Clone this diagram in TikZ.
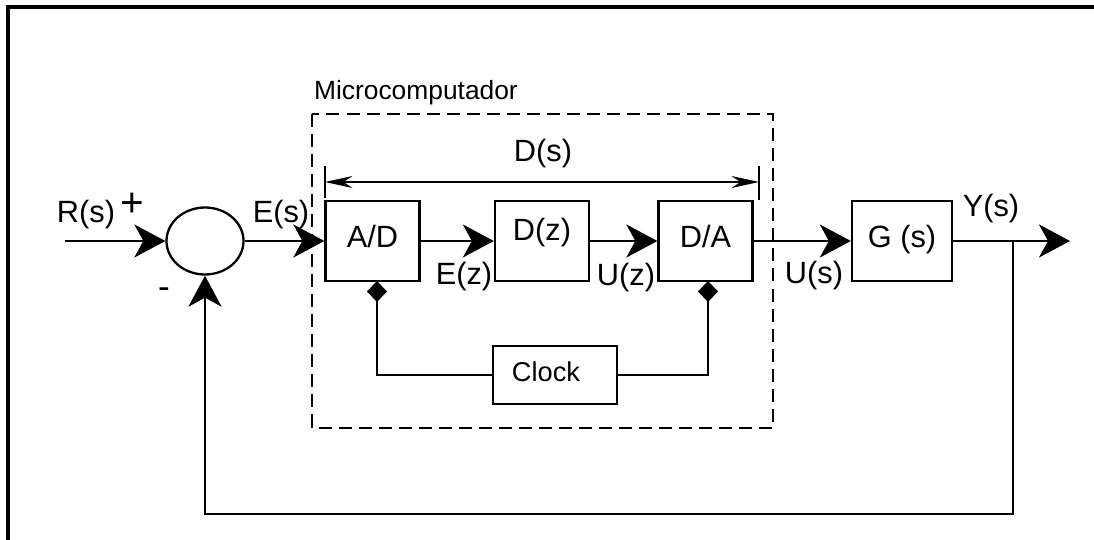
\documentclass[tikz,border=0pt]{standalone}
\usepackage{fontspec}
\setmainfont{Liberation Sans}
\usetikzlibrary{positioning,arrows.meta,shapes.geometric}

\begin{document}
\begin{tikzpicture}[line width=1.3pt,blk/.style={draw,minimum width=1.88cm,minimum height=1.6cm,text height=0.73em,text depth=0pt,font=\fontsize{17.5}{20}\selectfont},sumnode/.style={draw,ellipse,minimum width=1.54cm,minimum height=1.34cm,inner sep=0pt},sig/.style={-{Stealth[length=0.62cm,width=0.66cm,inset=0.18cm]}},lbl/.style={font=\fontsize{17.5}{20}\selectfont,inner sep=0pt,anchor=base},clkbox/.style={draw,line width=1.1pt,minimum width=2.48cm,minimum height=1.16cm,text height=0.73em,text depth=0pt,font=\fontsize{15.5}{18}\selectfont},dimarrow/.style={line width=0.8pt,{Stealth[length=0.55cm,width=0.24cm]}-{Stealth[length=0.55cm,width=0.24cm]}},clk/.style={line width=1.1pt,{Diamond[length=0.42cm,width=0.4cm]}-}]
\useasboundingbox (0,0) rectangle (21.88,-10.8);
\draw[line width=2.3pt] (0.16,-10.8) |- (21.88,-0.14);
% microcomputer frame
\draw[line width=1.6pt,dash pattern=on 7.4pt off 4pt] (6.24,-2.28) rectangle (15.46,-8.56);
\node[font=\fontsize{15}{17}\selectfont,inner sep=0pt,anchor=base west] (micro) at (6.26,-2.0) {Microcomputador};
% blocks
\node[sumnode] (sum) at (4.1,-4.82) {};
\node[blk] (ad) at (7.45,-4.82) {A/D};
\node[blk] (dz) at (10.84,-4.82) {\raisebox{0.13cm}{D(z)}};
\node[blk] (da) at (14.11,-4.82) {D/A};
\node[blk,minimum width=2.0cm] (g) at (18.04,-4.82) {G (s)};
\node[clkbox] (clock) at (11.1,-7.5) {\hspace*{-0.36cm}Clock};
% signals
\coordinate (rin) at (1.3,-4.82);\coordinate (yout) at (21.4,-4.82);\coordinate (ybr) at (20.26,-4.82);\coordinate (fbl) at (20.26,-10.28);
\draw[sig] (rin) -- (sum.west);
\draw[sig] (sum.east) -- (ad.west);
\draw[sig] (ad.east) -- (dz.west);
\draw[sig] (dz.east) -- (da.west);
\draw[sig] (da.east) -- (g.west);
\draw[sig] (g.east) -- (yout);
\draw[sig] (ybr) -- (fbl) -| (sum.south);
% clock lines
\coordinate (adck) at (7.54,-5.62);\coordinate (dack) at (14.16,-5.62);
\draw[clk] (adck) |- (clock.west);
\draw[clk] (dack) |- (clock.east);
% D(s) span
\coordinate (dimL) at (6.5,-3.64);\coordinate (dimR) at (15.18,-3.64);
\coordinate (tlt) at (6.5,-3.32);\coordinate (tlb) at (6.5,-3.96);\coordinate (trt) at (15.18,-3.32);\coordinate (trb) at (15.18,-4.0);
\draw[dimarrow] (dimL) -- (dimR);
\draw[line width=0.8pt] (tlt) -- (tlb) (trt) -- (trb);
% labels
\node[lbl] (ds) at (10.86,-3.24) {D(s)};
\node[lbl] (rs) at (1.72,-4.46) {R(s)};
\node[lbl,anchor=center,font=\fontsize{23}{26}\selectfont] (plus) at (2.64,-4.1) {+};
\node[lbl,anchor=center,font=\fontsize{20}{24}\selectfont] (minus) at (3.28,-5.86) {-};
\node[lbl] (es) at (5.62,-4.46) {E(s)};
\node[lbl] (ez) at (9.28,-5.68) {E(z)};
\node[lbl] (uz) at (12.52,-5.7) {U(z)};
\node[lbl] (us) at (16.28,-5.66) {U(s)};
\node[lbl] (ys) at (19.82,-4.34) {Y(s)};
\end{tikzpicture}
\end{document}
